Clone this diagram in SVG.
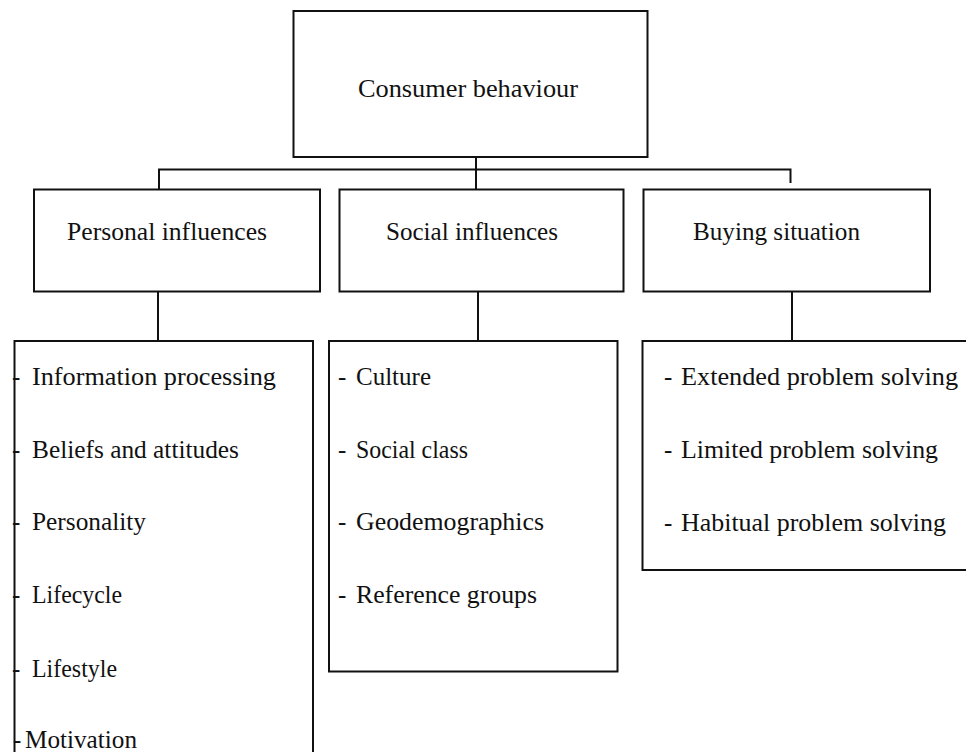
<svg xmlns="http://www.w3.org/2000/svg" width="966" height="752" viewBox="0 0 966 752">
<style>
.box{fill:#fff;stroke:#111;stroke-width:2}
.ln{fill:none;stroke:#111;stroke-width:2}
text{font-family:"Liberation Serif","Times New Roman",serif;font-size:25px;fill:#111}
</style>
<rect width="966" height="752" fill="#fff"/>
<g id="connectors">
<path class="ln" d="M476 157V190"/>
<path class="ln" d="M159 190V169.5H790.5V183"/>
<path class="ln" d="M158 292V341"/>
<path class="ln" d="M478 292V341"/>
<path class="ln" d="M792 292V341"/>
</g>
<g id="consumer-behaviour">
<rect class="box" x="293.5" y="11" width="354" height="146"/>
<text x="358" y="97" textLength="220" lengthAdjust="spacingAndGlyphs">Consumer behaviour</text>
</g>
<g id="personal-influences">
<rect class="box" x="34" y="189.5" width="286" height="102"/>
<text x="67" y="240" textLength="200" lengthAdjust="spacingAndGlyphs">Personal influences</text>
</g>
<g id="social-influences">
<rect class="box" x="339.5" y="189.5" width="284" height="102"/>
<text x="386" y="240" textLength="172" lengthAdjust="spacingAndGlyphs">Social influences</text>
</g>
<g id="buying-situation">
<rect class="box" x="643.5" y="189.5" width="286.5" height="102"/>
<text x="693" y="240" textLength="167" lengthAdjust="spacingAndGlyphs">Buying situation</text>
</g>
<g id="personal-list">
<rect class="box" x="14.5" y="341" width="298.5" height="430"/>
<text y="385"><tspan x="12">- </tspan><tspan x="32" textLength="244" lengthAdjust="spacingAndGlyphs">Information processing</tspan></text>
<text y="458"><tspan x="12">- </tspan><tspan x="32" textLength="207" lengthAdjust="spacingAndGlyphs">Beliefs and attitudes</tspan></text>
<text y="530"><tspan x="12">- </tspan><tspan x="32" textLength="114" lengthAdjust="spacingAndGlyphs">Personality</tspan></text>
<text y="603"><tspan x="12">- </tspan><tspan x="32" textLength="90" lengthAdjust="spacingAndGlyphs">Lifecycle</tspan></text>
<text y="677"><tspan x="12">- </tspan><tspan x="32" textLength="85" lengthAdjust="spacingAndGlyphs">Lifestyle</tspan></text>
<text y="748"><tspan x="13">-</tspan><tspan x="25" textLength="112" lengthAdjust="spacingAndGlyphs">Motivation</tspan></text>
</g>
<g id="social-list">
<rect class="box" x="329" y="341" width="288.5" height="330.5"/>
<text y="385"><tspan x="338">- </tspan><tspan x="356" textLength="75" lengthAdjust="spacingAndGlyphs">Culture</tspan></text>
<text y="458"><tspan x="338">- </tspan><tspan x="356" textLength="112" lengthAdjust="spacingAndGlyphs">Social class</tspan></text>
<text y="530"><tspan x="338">- </tspan><tspan x="356" textLength="188" lengthAdjust="spacingAndGlyphs">Geodemographics</tspan></text>
<text y="603"><tspan x="338">- </tspan><tspan x="356" textLength="181" lengthAdjust="spacingAndGlyphs">Reference groups</tspan></text>
</g>
<g id="buying-list">
<rect class="box" x="642.5" y="341" width="340" height="229"/>
<text y="385"><tspan x="664">- </tspan><tspan x="681" textLength="277" lengthAdjust="spacingAndGlyphs">Extended problem solving</tspan></text>
<text y="458"><tspan x="664">- </tspan><tspan x="681" textLength="257" lengthAdjust="spacingAndGlyphs">Limited problem solving</tspan></text>
<text y="531"><tspan x="664">- </tspan><tspan x="681" textLength="265" lengthAdjust="spacingAndGlyphs">Habitual problem solving</tspan></text>
</g>
</svg>
